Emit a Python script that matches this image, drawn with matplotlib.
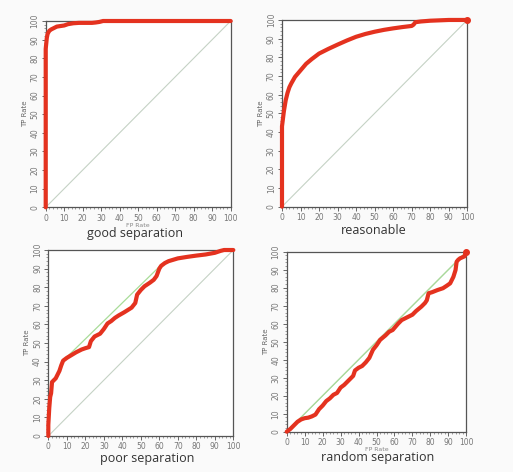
import matplotlib
matplotlib.use("Agg")
import matplotlib.pyplot as plt
from matplotlib.ticker import MultipleLocator

# ---- data (percent) ----
good_fpr = [0, 0, 0.3, 0.6, 1, 1.5, 2, 3, 4, 5, 6, 8, 10, 12, 15, 18, 22, 25, 27, 29, 31, 40, 60, 80, 100]
good_tpr = [0, 85, 88, 91, 93, 94, 94.8, 95.5, 96, 96.5, 97, 97.3, 97.6, 98.3, 98.8, 99, 99, 99, 99.2, 99.5, 100, 100, 100, 100, 100]

reas_fpr = [0, 0, 0.5, 1, 1.5, 2, 3, 4, 5, 7, 10, 13, 16, 20, 25, 30, 35, 40, 45, 50, 55, 60, 65, 70, 71, 72, 75, 80, 85, 90, 100]
reas_tpr = [0, 43, 47, 51, 54, 57, 61, 64, 66, 69.5, 73, 76.5, 79, 82, 84.5, 86.8, 89, 91, 92.5, 93.7, 94.7, 95.5, 96.2, 96.8, 97.5, 98.8, 99.2, 99.6, 99.8, 100, 100]

poor_fpr = [0, 0, 0.5, 1, 1.5, 2, 3, 4, 5, 6, 7, 8, 10, 13, 15, 18, 20, 22, 23, 25, 28, 30, 32, 34, 36, 38, 41, 45, 47, 48, 50, 52, 55, 57, 58.5, 60, 61, 63, 65, 70, 75, 80, 85, 90, 93, 95, 100]
poor_tpr = [0, 6, 15, 21, 23, 29, 30, 31, 33, 35, 38, 40.5, 42, 43.8, 45, 46.5, 47.2, 47.8, 51, 53.5, 55, 57.5, 60.5, 61.8, 63.5, 64.8, 66.5, 69, 71.5, 76, 78.5, 80.5, 82.5, 84, 86, 90, 91.5, 93, 94, 95.5, 96.3, 97, 97.6, 98.5, 99.5, 100, 100]

rand_fpr = [0, 2, 3, 5, 6, 8, 10, 12, 14, 16, 18, 20, 22, 24, 26, 28, 30, 32, 35, 37, 38, 40, 42, 44, 46, 48, 50, 52, 55, 57, 59, 62, 64, 66, 68, 70, 72, 75, 77, 78, 79, 81, 84, 87, 89, 91, 92.8, 94, 94.6, 95.5, 96.5, 99, 100]
rand_tpr = [0, 1.5, 2.5, 4.5, 5.5, 6.8, 7.5, 7.8, 8.5, 9.5, 12.5, 14.5, 17, 18.5, 20.5, 21.5, 24.5, 26, 29, 31, 34, 35.5, 36.5, 38.5, 41, 45.5, 48, 51, 53.5, 55.5, 56.5, 60, 62, 63, 64, 65, 67, 69.5, 71.5, 73, 76.9, 77.5, 78.7, 79.7, 81, 82.4, 86, 89.8, 94.4, 95.5, 96.3, 97.4, 100]

hull_poor_x = [8, 60]
hull_poor_y = [40.5, 91]
hull_rand_x = [0, 100]
hull_rand_y = [0, 100]

ticks = [0, 10, 20, 30, 40, 50, 60, 70, 80, 90, 100]

titles = ["good separation", "reasonable", "poor separation", "random separation"]

fig = plt.figure(figsize=(5.13, 4.72), dpi=100)
fig.patch.set_facecolor("#fafafa")

positions = [
    [0.0891, 0.5608, 0.3606, 0.3947],
    [0.5497, 0.5621, 0.3612, 0.3956],
    [0.0942, 0.0763, 0.3606, 0.3940],
    [0.5589, 0.0854, 0.3501, 0.3814],
]
curves = [(good_fpr, good_tpr), (reas_fpr, reas_tpr), (poor_fpr, poor_tpr), (rand_fpr, rand_tpr)]
hulls = [None, None, (hull_poor_x, hull_poor_y), (hull_rand_x, hull_rand_y)]
end_marker = [False, True, False, True]
show_xlabel = [True, False, False, True]

red = "#e4321f"
for i in range(4):
    ax = fig.add_axes(positions[i])
    ax.set_xlim(0, 100)
    ax.set_ylim(0, 100)
    ax.set_facecolor("white")
    ax.plot([0, 100], [0, 100], color="#c5d2c5", lw=0.8, zorder=1)
    if hulls[i] is not None:
        ax.plot(hulls[i][0], hulls[i][1], color="#a8dc98", lw=0.9, zorder=2)
    x, y = curves[i]
    ax.plot(x, y, color=red, lw=3.0, solid_joinstyle="round", solid_capstyle="round",
            zorder=3, clip_on=False)
    if end_marker[i]:
        ax.plot([100], [100], "o", color=red, ms=4, zorder=4, clip_on=False)
    ax.set_xticks(ticks)
    ax.set_yticks(ticks)
    ax.set_xticklabels([str(t) for t in ticks])
    ax.set_yticklabels([str(t) for t in ticks], rotation=90, va="center")
    ax.xaxis.set_minor_locator(MultipleLocator(2))
    ax.yaxis.set_minor_locator(MultipleLocator(2))
    ax.tick_params(which="major", length=3, width=0.7, color="#666666", labelsize=5.5,
                   labelcolor="#777777", pad=1.5)
    ax.tick_params(which="minor", length=1.5, width=0.5, color="#777777")
    for s in ax.spines.values():
        s.set_color("#555555")
        s.set_linewidth(0.9)
    ax.set_ylabel("TP Rate", fontsize=5, color="#666666", labelpad=2)
    if show_xlabel[i]:
        ax.set_xlabel("FP Rate", fontsize=4.5, color="#888888", labelpad=0)

title_pos = [(135, 234), (374, 231), (147, 458.5), (378, 458)]
for t, (px, py) in zip(titles, title_pos):
    fig.text(px / 513, 1 - py / 472, t, ha="center", va="center", fontsize=9,
             family="Open Sans", color="#333333", zorder=10)

fig.savefig("out.png", dpi=100, facecolor=fig.get_facecolor())
